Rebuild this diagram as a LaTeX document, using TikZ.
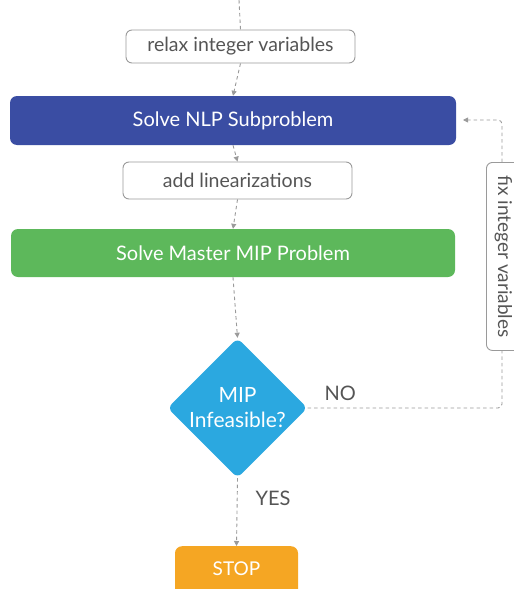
\documentclass[tikz,border=0pt]{standalone}
\usepackage{fontspec}
\setmainfont{Lato}
\usetikzlibrary{shapes.geometric,arrows.meta}
\definecolor{nlpblue}{HTML}{3A4DA3}
\definecolor{mipgreen}{HTML}{5DB85B}
\definecolor{decblue}{HTML}{2BA8E0}
\definecolor{stoporange}{HTML}{F5A623}
\definecolor{linegray}{HTML}{9A9A9A}
\definecolor{textgray}{HTML}{555555}
\tikzset{
  flow/.style={draw=linegray, line width=0.9pt, dash pattern=on 3.5pt off 3pt, -{Triangle[length=5pt,width=5pt]}},
  flowplain/.style={draw=linegray, line width=0.9pt, dash pattern=on 3.5pt off 3pt},
  stepnote/.style={draw=linegray, line width=0.9pt, rounded corners=6pt, fill=white, text=textgray, font=\fontsize{19.5}{23}\selectfont, inner sep=0pt},
  bigbox/.style={rounded corners=7pt, text=white, font=\fontsize{20}{24}\selectfont, inner sep=0pt},
  lbl/.style={text=textgray, font=\fontsize{20}{24}\selectfont},
}
\begin{document}
\begin{tikzpicture}[x=1pt,y=-1pt]
\useasboundingbox (0,0) rectangle (514,589);
\clip (0,0) rectangle (514,589);
\coordinate (top) at (239,0);
\node[stepnote, minimum width=229pt, minimum height=33pt] (relax) at (240.5,46.5) {relax integer variables};
\node[bigbox, fill=nlpblue, minimum width=446pt, minimum height=49pt] (nlp) at (233,120.5) {Solve NLP Subproblem};
\node[stepnote, minimum width=229pt, minimum height=37pt] (lin) at (237.5,180.5) {add linearizations};
\node[bigbox, fill=mipgreen, minimum width=444pt, minimum height=48pt] (mip) at (233,253) {Solve Master MIP Problem};
\node[diamond, fill=decblue, rounded corners=6pt, minimum width=140pt, minimum height=140pt, inner sep=0pt, text=white, align=center, font=\fontsize{21}{25}\selectfont] (dec) at (237.5,408) {MIP\\Infeasible?};
\node[bigbox, fill=stoporange, minimum width=123pt, minimum height=60pt, anchor=north] (stop) at (236.5,546) {\raisebox{15pt}{\fontsize{19}{22}\selectfont STOP}};
\node[stepnote, minimum width=36pt, minimum height=188pt, anchor=north west] (fix) at (486,162) {};
\node[text=textgray, font=\fontsize{19}{22}\selectfont, rotate=-90] (fixtxt) at ([xshift=-1pt]fix.center) {fix integer variables};
\draw[flowplain] (top) -- (relax.north);
\draw[flow] (relax.south) -- (nlp.north);
\draw[flow] (nlp.south) -- (lin.north);
\draw[flow] (lin.south) -- (mip.north);
\draw[flow] (mip.south) -- (dec.north);
\draw[flow] (dec.south) -- (stop.north);
\coordinate (nlpin) at (463,120);
\draw[flowplain, rounded corners=4pt] (dec.east) -- (502,408) -- (502,350);
\draw[flow, rounded corners=4pt] (502,162) -- (502,120) -- (nlpin);
\node[lbl, anchor=west] (no) at (321,393) {NO};
\node[lbl, anchor=west] (yes) at (252,498) {YES};
\end{tikzpicture}
\end{document}
